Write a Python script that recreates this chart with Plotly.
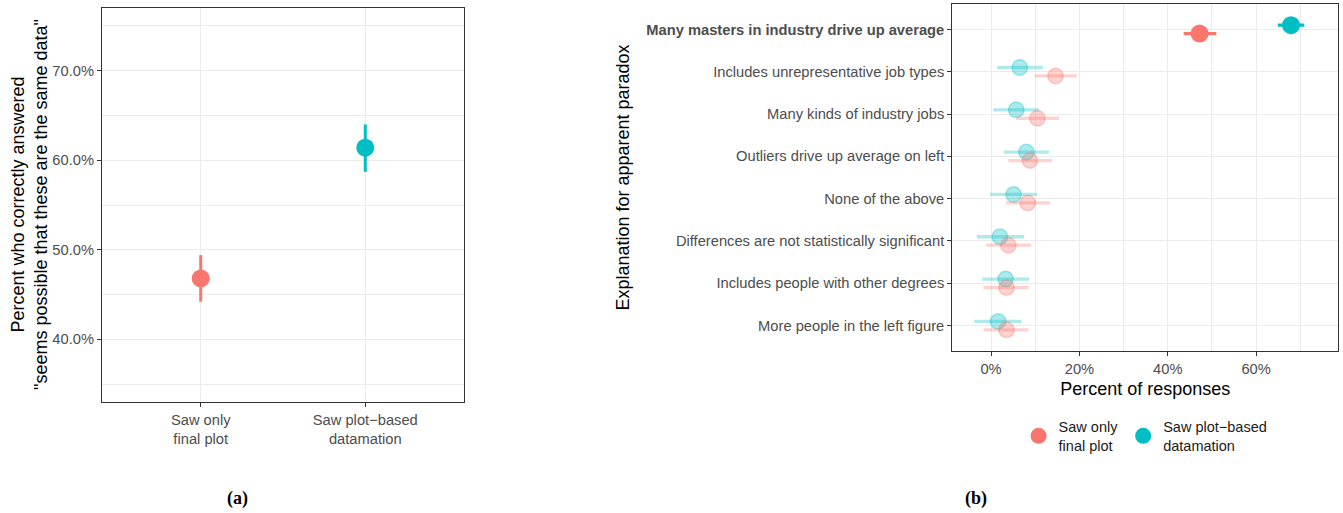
import plotly.graph_objects as go

# ---------------- data ----------------
# Panel (a)
cond_labels = ["Saw only<br>final plot", "Saw plot\u2212based<br>datamation"]
cond_pct = [46.8, 61.4]
cond_lo = [44.2, 58.7]
cond_hi = [49.4, 64.0]
a_ticks = [40, 50, 60, 70]
a_ticktext = ["40.0%", "50.0%", "60.0%", "70.0%"]
a_ytitle = "Percent who correctly answered<br>\"seems possible that these are the same data\""

# Panel (b)
expl_labels = [
    "<b>Many masters in industry drive up average</b>",
    "Includes unrepresentative job types",
    "Many kinds of industry jobs",
    "Outliers drive up average on left",
    "None of the above",
    "Differences are not statistically significant",
    "Includes people with other degrees",
    "More people in the left figure",
]
final_pct = [47.2, 14.6, 10.5, 8.8, 8.3, 3.9, 3.5, 3.5]
final_lo = [43.6, 9.9, 5.7, 3.9, 3.4, -1.1, -1.7, -1.7]
final_hi = [51.0, 19.4, 15.4, 13.8, 13.4, 9.1, 8.5, 8.5]
datam_pct = [67.9, 6.5, 5.7, 8.0, 5.1, 2.0, 3.3, 1.6]
datam_lo = [64.9, 1.4, 0.5, 2.9, -0.2, -3.2, -2.0, -3.8]
datam_hi = [70.9, 11.7, 10.9, 13.1, 10.4, 7.5, 8.6, 6.9]
b_ticks = [0, 20, 40, 60]
b_ticktext = ["0%", "20%", "40%", "60%"]

RED = "#F8766D"
TEAL = "#00BFC4"
RED_F = "rgba(248,118,109,0.32)"
TEAL_F = "rgba(0,191,196,0.32)"
TICKC = "#4D4D4D"
GRID = "#EBEBEB"
FONT = "Liberation Sans, Arial, sans-serif"
W, H = 1343, 513

fig = go.Figure()

# ---------- panel (a) ----------
for i, (col, name) in enumerate([(RED, cond_labels[0]), (TEAL, cond_labels[1])]):
    fig.add_trace(go.Scatter(
        x=[i], y=[cond_pct[i]], mode="markers", name=name,
        marker=dict(color=col, size=18),
        error_y=dict(type="data", symmetric=False,
                     array=[cond_hi[i] - cond_pct[i]],
                     arrayminus=[cond_pct[i] - cond_lo[i]],
                     color=col, thickness=3, width=0),
        xaxis="x", yaxis="y", showlegend=True, legendgroup=str(i),
    ))

# ---------- panel (b) ----------
n = len(expl_labels)
idx = list(range(n))
hi_idx = [0]
lo_idx = idx[1:]

def add_group(pct, lo, hi, offset, color, faded_color, legend_name, group):
    for sel, col, sz, lw in [(lo_idx, faded_color, 15.5, 1.5), (hi_idx, color, 18, 0)]:
        fig.add_trace(go.Scatter(
            x=[pct[k] for k in sel],
            y=[k + offset for k in sel],
            mode="markers", name=legend_name, showlegend=False, legendgroup=group,
            marker=dict(color=col, size=sz, line=dict(color=col, width=lw)),
            error_x=dict(type="data", symmetric=False,
                         array=[hi[k] - pct[k] for k in sel],
                         arrayminus=[pct[k] - lo[k] for k in sel],
                         color=col, thickness=3.3, width=0),
            xaxis="x2", yaxis="y2",
        ))

add_group(datam_pct, datam_lo, datam_hi, -0.1, TEAL, TEAL_F, cond_labels[1], "1")
add_group(final_pct, final_lo, final_hi, 0.1, RED, RED_F, cond_labels[0], "0")

axis_common = dict(showline=True, mirror=True, linecolor="#333333", linewidth=1.2,
                   ticks="outside", ticklen=4, tickcolor="#333333", tickwidth=1,
                   showgrid=True, gridcolor=GRID, gridwidth=1, zeroline=False,
                   tickfont=dict(family=FONT, size=14.7, color=TICKC))

fig.update_layout(
    width=W, height=H,
    margin=dict(l=0, r=0, t=0, b=0),
    paper_bgcolor="white", plot_bgcolor="white",
    font=dict(family=FONT),
    xaxis=dict(domain=[102 / W, 464 / W], range=[-0.6, 1.6],
               tickvals=[0, 1], ticktext=cond_labels, anchor="y", **axis_common),
    yaxis=dict(domain=[1 - 402 / H, 1 - 8 / H], range=[33, 77],
               tickvals=a_ticks, ticktext=a_ticktext,
               minor=dict(tickvals=[35, 45, 55, 65, 75], showgrid=True, gridcolor=GRID, gridwidth=0.6, ticks=""),
               anchor="x", **axis_common),
    xaxis2=dict(domain=[952.3 / W, 1338.3 / W], range=[-8.77, 78.6],
                tickvals=b_ticks, ticktext=b_ticktext,
                minor=dict(tickvals=[10, 30, 50, 70], showgrid=True, gridcolor=GRID, gridwidth=0.6, ticks=""),
                title=dict(text="Percent of responses", font=dict(family=FONT, size=18, color="black"), standoff=6),
                anchor="y2", **axis_common),
    yaxis2=dict(domain=[1 - 351 / H, 1 - 4 / H], range=[n - 1 + 0.6, -0.6],
                tickvals=idx, ticktext=expl_labels,
                title=dict(text="Explanation for apparent paradox", font=dict(family=FONT, size=18, color="black"), standoff=12),
                anchor="x2", **axis_common),
    legend=dict(orientation="h", x=0.853, xanchor="center", y=1 - 436 / H, yanchor="middle",
                font=dict(family=FONT, size=14.5, color="#1A1A1A"), bgcolor="rgba(0,0,0,0)",
                traceorder="normal"),
    annotations=[
        dict(text=a_ytitle, x=29 / W, y=1 - 205 / H, xref="paper", yref="paper",
             xanchor="center", yanchor="middle", textangle=-90,
             showarrow=False, font=dict(family=FONT, size=18, color="black")),
        dict(text="<b>(a)</b>", x=237 / W, y=1 - 498 / H, xref="paper", yref="paper",
             xanchor="center", yanchor="middle",
             showarrow=False, font=dict(family="Liberation Serif, DejaVu Serif, serif", size=18, color="black")),
        dict(text="<b>(b)</b>", x=976 / W, y=1 - 498 / H, xref="paper", yref="paper",
             xanchor="center", yanchor="middle",
             showarrow=False, font=dict(family="Liberation Serif, DejaVu Serif, serif", size=18, color="black")),
    ],
)

fig.write_html("out.html")
